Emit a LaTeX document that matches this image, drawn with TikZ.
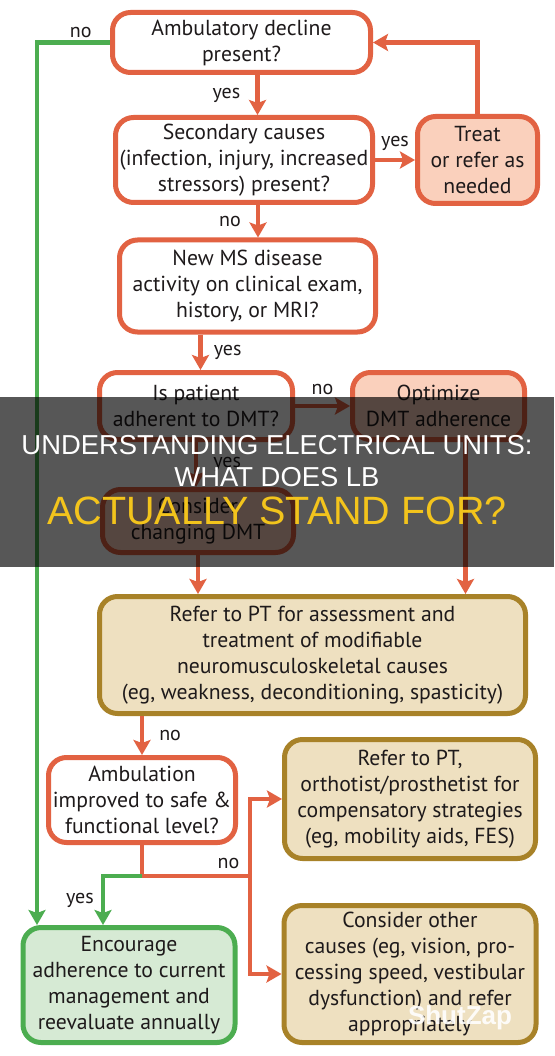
\documentclass[tikz,border=0pt]{standalone}
\usepackage{fontspec}
\setmainfont{PT Sans}
\newfontfamily\bannerfont{Liberation Sans}
\usetikzlibrary{arrows.meta,calc,positioning}
\definecolor{flowOrange}{RGB}{226,98,66}
\definecolor{actionFill}{RGB}{250,208,188}
\definecolor{referGold}{RGB}{168,130,40}
\definecolor{referFill}{RGB}{238,224,192}
\definecolor{keepGreen}{RGB}{76,173,80}
\definecolor{keepFill}{RGB}{214,234,212}
\definecolor{inkColor}{RGB}{30,26,27}
\definecolor{titleYellow}{RGB}{243,196,28}
\tikzset{question/.style={draw=flowOrange, fill=white, line width=5pt, rounded corners=18pt, align=center, text=inkColor, font=\fontsize{21.7}{26}\selectfont, inner sep=0pt}}
\tikzset{action/.style={question, fill=actionFill}}
\tikzset{refer/.style={question, draw=referGold, fill=referFill}}
\tikzset{outcome/.style={question, draw=keepGreen, fill=keepFill}}
\tikzset{lbl/.style={text=inkColor, font=\fontsize{20}{22}\selectfont, inner sep=1pt}}
\tikzset{flow/.style={draw=flowOrange, line width=4.5pt, -{Stealth[length=15pt,width=17pt,inset=3pt]}}}
\tikzset{keep/.style={flow, draw=keepGreen}}
\tikzset{banner/.style={text=white, font=\bannerfont\fontsize{27.4}{30}\selectfont, inner sep=0pt}}

\begin{document}
\begin{tikzpicture}[x=1pt, y=-1pt]
\useasboundingbox[fill=white] (0,0) rectangle (554,1056);
% Nodes
\node (decline) [question, minimum width=258pt, minimum height=60pt] at (241.5,42.5) {Ambulatory decline\\present?};
\node (secondary) [question, minimum width=257pt, minimum height=85pt] at (244,160) {Secondary causes\\(infection, injury, increased\\stressors) present?};
\node (treat) [action, minimum width=120pt, minimum height=87pt] at (477.5,160) {Treat\\or refer as\\needed};
\node (activity) [question, minimum width=256pt, minimum height=92pt] at (247.5,286) {New MS disease\\activity on clinical exam,\\history, or MRI?};
\node (adherent) [question, minimum width=193pt, minimum height=67pt] at (196,406) {Is patient\\adherent to DMT?};
\node (optimize) [action, minimum width=172pt, minimum height=67pt] at (438.5,406) {Optimize\\DMT adherence};
\node (changing) [action, minimum width=191pt, minimum height=63pt] at (198,521) {Consider\\changing DMT};
\node (pt) [refer, minimum width=426pt, minimum height=117pt] at (312.5,655) {Refer to PT for assessment and\\treatment of modifiable\\neuromusculoskeletal causes\\(eg, weakness, deconditioning, spasticity)};
\node (ambulation) [question, minimum width=187pt, minimum height=85pt] at (142,800) {Ambulation\\improved to safe \&\\functional level?};
\node (orthotist) [refer, minimum width=251pt, minimum height=119pt] at (410,799) {Refer to PT,\\orthotist/prosthetist for\\compensatory strategies\\(eg, mobility aids, FES)};
\node (encourage) [outcome, minimum width=212pt, minimum height=115pt] at (129,985) {Encourage\\adherence to current\\management and\\reevaluate annually};
\node (other) [refer, minimum width=252pt, minimum height=137pt] at (410,974) {Consider other\\causes (eg, vision, pro-\\cessing speed, vestibular\\dysfunction) and refer\\appropriately};

\coordinate (split) at ([yshift=-31pt]ambulation.south);
\coordinate (branch) at (250,876);

% Connectors
\begin{scope}[flow]
\draw ([xshift=16pt]decline.south) -- node[lbl, left=14pt] {yes} ([xshift=16pt]decline.south |- secondary.north);
\draw ([xshift=14pt]secondary.south) -- node[lbl, left=14pt] {no} ([xshift=14pt]secondary.south |- activity.north);
\draw (secondary) -- node[lbl, above=6pt] {yes} (treat);
\draw (treat.north) |- (decline.east);
\draw ([xshift=-47pt]activity.south) -- node[lbl, right=10pt] {yes} ([xshift=-47pt]activity.south |- adherent.north);
\draw (adherent) -- node[lbl, above=8pt] {no} (optimize);
\draw (adherent.south) -- node[lbl, right=14pt] {yes} (adherent.south |- changing.north);
\draw (changing.south) -- (changing.south |- pt.north);
\draw ([xshift=27pt]optimize.south) -- ([xshift=27pt]optimize.south |- pt.north);
\draw (ambulation.north |- pt.south) -- node[lbl, right=14pt] {no} (ambulation.north);
\draw[-] (ambulation.south) -- (split) -- node[lbl, pos=.8, above=4pt] {no} (branch);
\draw (branch) |- (orthotist.west);
\draw (branch) |- (other.west);
\end{scope}

\begin{scope}[keep]
\draw (decline.west) -| node[lbl, pos=.2, above=2pt] {no} ([xshift=-92pt]encourage.north);
\draw (split) -| node[lbl, pos=.75, left=6pt] {yes} ([xshift=-26pt]encourage.north);
\end{scope}

% Title banner
\fill[black, opacity=.66] (0,397) rectangle (554,567);
\node (title1) [banner] at (277,445) {UNDERSTANDING ELECTRICAL UNITS:};
\node (title2) [banner] at (277,477) {WHAT DOES LB};
\node (title3) [banner, text=titleYellow, font=\bannerfont\fontsize{39.5}{42}\selectfont] at (277,511) {ACTUALLY STAND FOR?};
\node (mark) [text=white, opacity=.9, font=\bannerfont\bfseries\fontsize{26}{28}\selectfont] at (460,1018) {ShutZap};
\end{tikzpicture}
\end{document}
